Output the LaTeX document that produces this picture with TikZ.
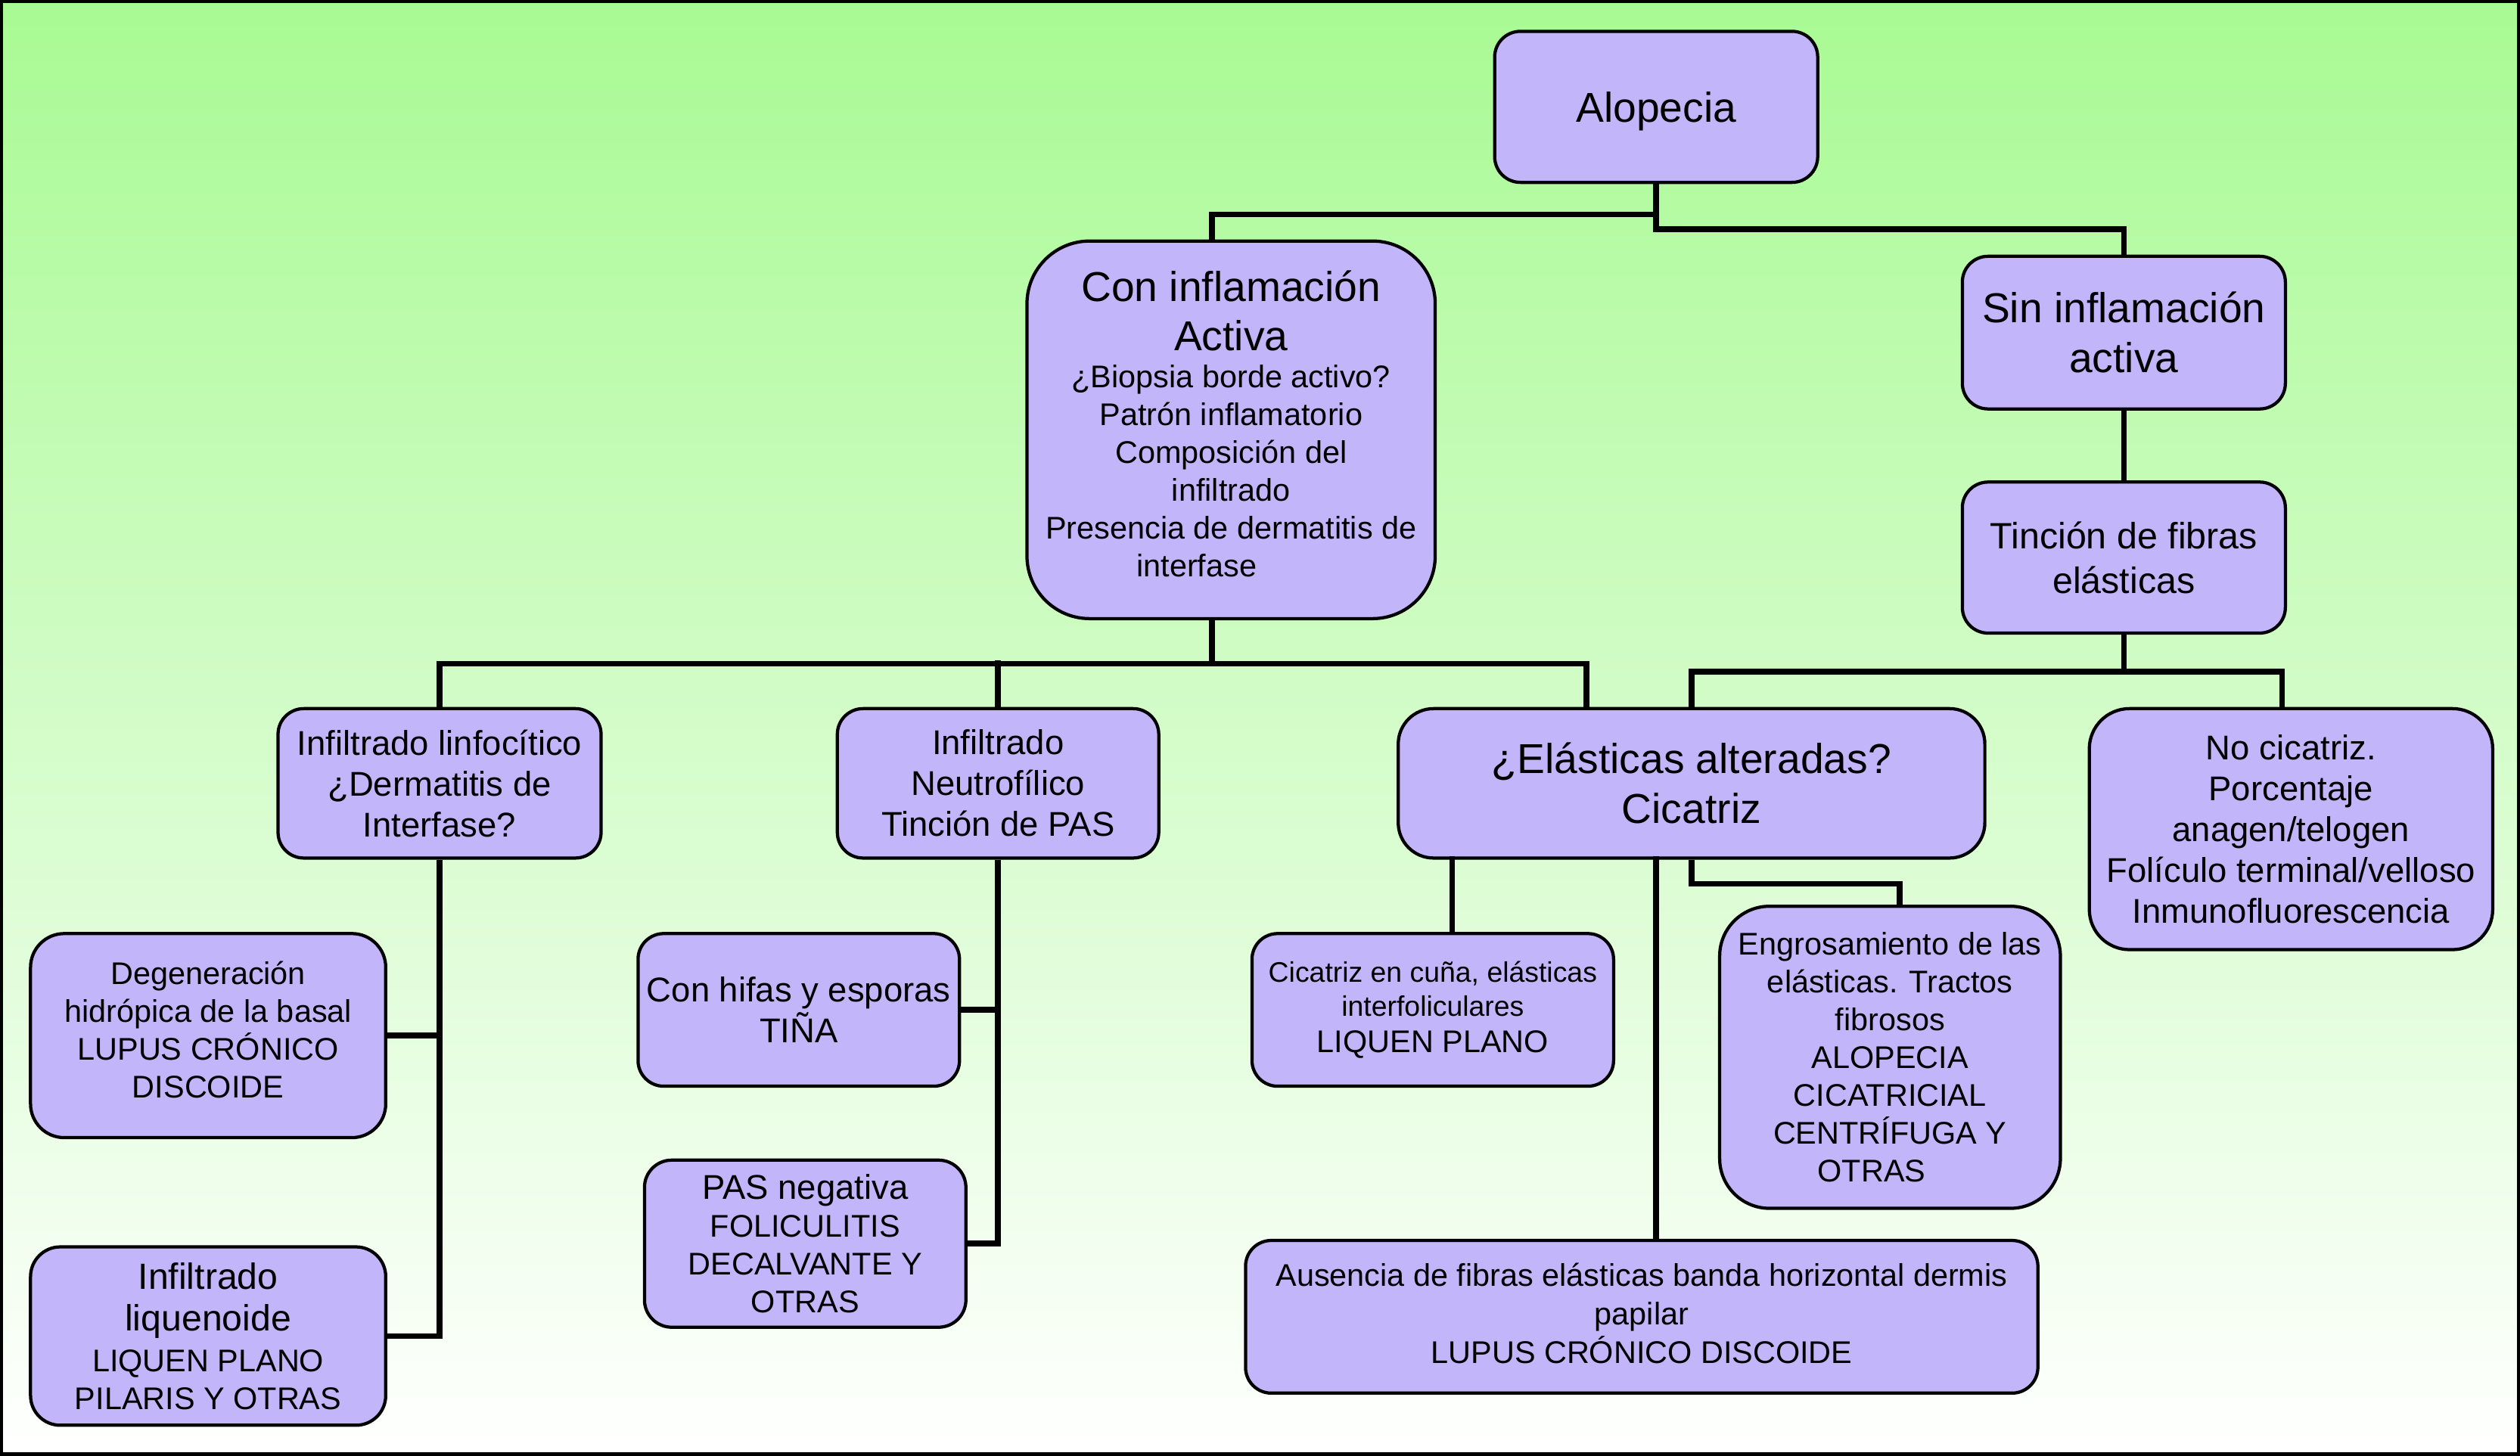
\documentclass[tikz,border=0pt]{standalone}
\usepackage{fontspec}
\setmainfont{Liberation Sans}
\definecolor{cajalila}{RGB}{195,181,250}
\definecolor{fondoverde}{RGB}{168,250,147}
\newcommand{\fgrande}{\fontsize{13pt}{15.5pt}\selectfont}
\newcommand{\fmedia}{\fontsize{11.4pt}{14pt}\selectfont}
\newcommand{\fnormal}{\fontsize{10.7pt}{12.7pt}\selectfont}
\newcommand{\fchica}{\fontsize{9.75pt}{11.75pt}\selectfont}
\newcommand{\fmini}{\fontsize{8.8pt}{10.7pt}\selectfont}
\newcommand{\fliq}{\fontsize{11.35pt}{14pt}\selectfont}

\begin{document}
\begin{tikzpicture}[x=.5pt,y=-.5pt,
		caja/.style={draw=black,line width=1pt,fill=cajalila,rounded corners=8pt,
			align=center,inner sep=0pt,anchor=center},
		linea/.style={line width=1.8pt}]
	\useasboundingbox (0,0) rectangle (1568,906);
	\shade[top color=fondoverde,bottom color=white] (0,0) rectangle (1568,906);
	\draw[line width=1pt] (1,1) rectangle (1567,905);
	\node[caja,font=\fgrande,text depth=0pt,minimum width=100.5pt,minimum height=47pt] (alopecia) at (1030.5,66.5)
		{Alopecia};
	\node[caja,font=\fchica,text depth=3.7pt,rounded corners=19.5pt,minimum width=127pt,minimum height=117.5pt] (coninf) at (766,267.5)
		{{\fgrande Con inflamación}\\[3.35pt]{\fgrande Activa}\\¿Biopsia borde activo?\\Patrón inflamatorio\\
		Composición del\\infiltrado\\Presencia de dermatitis de\\interfase\hspace*{21.4pt}};
	\node[caja,font=\fgrande,minimum width=100.5pt,minimum height=47.5pt] (sininf) at (1321.5,207)
		{Sin inflamación\\activa};
	\node[caja,font=\fmedia,minimum width=100.5pt,minimum height=47pt] (tincion) at (1321.5,347)
		{Tinción de fibras\\elásticas};
	\node[caja,font=\fnormal,minimum width=100.5pt,minimum height=46.5pt] (linfo) at (273.5,487.5)
		{Infiltrado linfocítico\\¿Dermatitis de\\Interfase?};
	\node[caja,font=\fnormal,minimum width=100pt,minimum height=46.5pt] (neutro) at (621,487.5)
		{Infiltrado\\Neutrofílico\\Tinción de PAS};
	\node[caja,font=\fgrande,rounded corners=11pt,minimum width=182.5pt,minimum height=46.5pt] (elasticas) at (1052.5,487.5)
		{¿Elásticas alteradas?\\Cicatriz};
	\node[caja,font=\fnormal,rounded corners=12.5pt,minimum width=125.5pt,minimum height=75pt] (nocicatriz) at (1425.5,516)
		{No cicatriz.\\Porcentaje\\anagen/telogen\\Folículo terminal/velloso\\Inmunofluorescencia};
	\node[caja,font=\fchica,text depth=3.7pt,rounded corners=10.5pt,minimum width=110.5pt,minimum height=63.5pt] (degeneracion) at (129.5,644.5)
		{Degeneración\\hidrópica de la basal\\LUPUS CRÓNICO\\DISCOIDE};
	\node[caja,font=\fchica,rounded corners=9.25pt,minimum width=110.5pt,minimum height=55.5pt] (liquenoide) at (129.5,831.5)
		{{\fliq Infiltrado}\\[1.35pt]{\fliq liquenoide}\\[.85pt]LIQUEN PLANO\\PILARIS Y OTRAS};
	\node[caja,font=\fnormal,minimum width=100pt,minimum height=47.5pt] (hifas) at (497,628.5)
		{Con hifas y esporas\\TIÑA};
	\node[caja,font=\fchica,rounded corners=8.5pt,minimum width=100pt,minimum height=52pt] (pasnegativa) at (501,774)
		{{\fnormal PAS negativa}\\FOLICULITIS\\DECALVANTE Y\\OTRAS};
	\node[caja,font=\fmini,minimum width=112.5pt,minimum height=47.5pt] (cuna) at (891.5,628.5)
		{Cicatriz en cuña, elásticas\\interfoliculares\\[.55pt]{\fchica LIQUEN PLANO}};
	\node[caja,font=\fchica,rounded corners=15.5pt,minimum width=106pt,minimum height=94pt] (engrosamiento) at (1176,658)
		{Engrosamiento de las\\elásticas. Tractos\\fibrosos\\ALOPECIA\\CICATRICIAL\\CENTRÍFUGA Y\\OTRAS\hspace*{11.4pt}};
	\node[caja,font=\fchica,text depth=2.4pt,minimum width=246.5pt,minimum height=47.5pt] (ausencia) at (1021.5,819.5)
		{Ausencia de fibras elásticas banda horizontal dermis\\[.25pt]papilar\\[.25pt]LUPUS CRÓNICO DISCOIDE};
	\draw[linea] (alopecia.south) -- ++(0,19) -| ([xshift=-6pt]coninf.north);
	\draw[linea] (alopecia.south) -- ++(0,28) -| (sininf.north);
	\draw[linea] (sininf) -- (tincion);
	\draw[linea] ([xshift=-6pt]coninf.south) -- ++(0,27) -| (linfo.north);
	\draw[linea] ([xshift=-6pt]coninf.south) -- ++(0,27) -| ([xshift=-32.75pt]elasticas.north);
	\draw[linea] (neutro.north) -- ++(0,-29);
	\draw[linea] (tincion.south) -- ++(0,23) -| (elasticas.north);
	\draw[linea] (tincion.south) -- ++(0,23) -| ([xshift=-2.75pt]nocicatriz.north);
	\draw[linea] (linfo.south) |- (degeneracion.east);
	\draw[linea] (linfo.south) |- (liquenoide.east);
	\draw[linea] (neutro.south) |- (hifas.east);
	\draw[linea] (neutro.south) |- (pasnegativa.east);
	\draw[linea] ([xshift=6pt]cuna.north) -- ++(0,-47);
	\draw[linea] ([xshift=4.5pt]ausencia.north) -- ++(0,-238);
	\draw[linea] (elasticas.south) -- ++(0,15) -| ([xshift=3pt]engrosamiento.north);
\end{tikzpicture}
\end{document}
